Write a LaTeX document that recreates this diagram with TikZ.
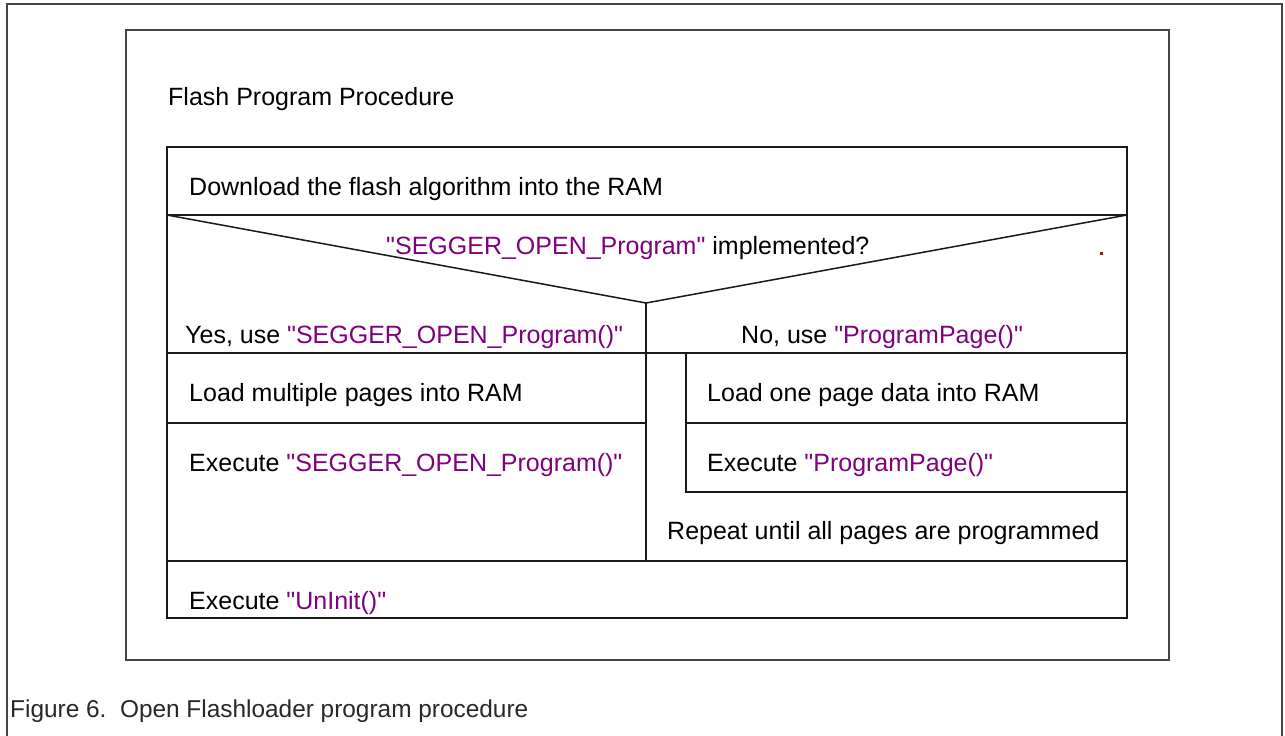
\documentclass[tikz,border=0pt]{standalone}
\usepackage{fontspec}
\newfontfamily\arialf{Liberation Sans}
\definecolor{fnpurple}{RGB}{128,0,128}
\definecolor{framegray}{RGB}{70,70,70}
\definecolor{captiongray}{RGB}{40,40,40}
\definecolor{dotred}{RGB}{200,0,0}
\begin{document}
\begin{tikzpicture}[x=1pt,y=-1pt,
  lbl/.style={anchor=base west,inner sep=0pt,font=\arialf\fontsize{25}{29}\selectfont,text=black},
  frameline/.style={draw=framegray,line width=2pt},
  cell/.style={draw=black!90,line width=1.5pt}]
\useasboundingbox (0,0) rectangle (1285,736);
\fill[white] (0,0) rectangle (1285,736);
% outer frame (open at the bottom)
\draw[frameline] (7,736) -- (7,4) -- (1282,4) -- (1282,736);
% inner frame
\draw[frameline] (126,30) rectangle (1169,660);
\node[lbl] (title) at (168,105) {Flash Program Procedure};
% main structure
\draw[cell] (167,147) rectangle (1127,618);
\draw[cell] (167,215) -- (1127,215);
\draw[cell] (167,215) -- (646,303) -- (1127,215);
\draw[cell] (646,303) -- (646,561);
\draw[cell] (167,353) -- (1127,353);
\draw[cell] (167,423) -- (646,423);
\draw[cell] (686,353) -- (686,492) -- (1127,492);
\draw[cell] (686,423) -- (1127,423);
\draw[cell] (167,561) -- (1127,561);
\fill[dotred] (1099.5,251.5) rectangle (1103,255);
% texts
\node[lbl] (download) at (189,195) {Download the flash algorithm into the RAM};
\node[lbl] (cond) at (386,254) {\textcolor{fnpurple}{"SEGGER\_OPEN\_Program"} implemented?};
\node[lbl] (yes) at (185,343) {Yes, use \textcolor{fnpurple}{"SEGGER\_OPEN\_Program()"}};
\node[lbl] (no) at (741,343) {No, use \textcolor{fnpurple}{"ProgramPage()"}};
\node[lbl] (loadmulti) at (189,401) {Load multiple pages into RAM};
\node[lbl] (execopen) at (189,471) {Execute \textcolor{fnpurple}{"SEGGER\_OPEN\_Program()"}};
\node[lbl] (loadone) at (707,401) {Load one page data into RAM};
\node[lbl] (execpp) at (707,471) {Execute \textcolor{fnpurple}{"ProgramPage()"}};
\node[lbl] (repeat) at (667,539) {Repeat until all pages are programmed};
\node[lbl] (uninit) at (189,609) {Execute \textcolor{fnpurple}{"UnInit()"}};
\node[lbl,text=captiongray,font=\arialf\fontsize{24.4}{29}\selectfont] (caption) at (10,717) {Figure 6.\ \ Open Flashloader program procedure};
\end{tikzpicture}
\end{document}
